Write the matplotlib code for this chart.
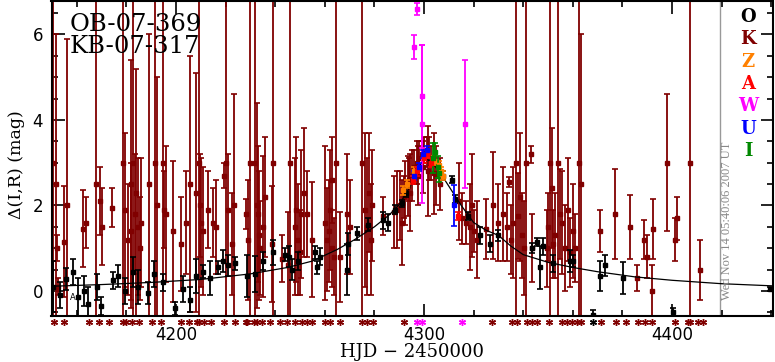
import matplotlib
matplotlib.use("Agg")
import matplotlib.pyplot as plt
import matplotlib.transforms as mtransforms
from matplotlib.ticker import MultipleLocator

# ---- data ----
# K (dark red) points: time, magnification, error
k_t = [4150.4, 4151.5, 4152.0, 4152.3, 4154.9, 4156.1, 4162.5, 4163.7, 4167.7, 4169.4,
       4170.2, 4174.2, 4178.6, 4179.4, 4180.6, 4181.9, 4182.7, 4183.9, 4184.7, 4185.9,
       4189.1, 4191.5, 4192.3, 4194.8, 4195.2, 4196.0, 4198.8, 4202.0, 4204.0, 4205.6,
       4208.0, 4209.2, 4209.6, 4210.9, 4212.9, 4214.9, 4216.1, 4219.4, 4220.2, 4223.4,
       4228.2, 4229.0, 4229.8, 4231.9, 4232.7, 4233.5, 4235.1, 4238.7, 4239.1, 4242.7,
       4245.2, 4245.8, 4247.8, 4249.0, 4250.5, 4252.8, 4254.8, 4260.0, 4261.0, 4262.2,
       4263.0, 4264.5, 4266.1, 4269.0, 4270.0, 4275.0, 4277.0, 4279.0, 4283.5, 4288.0,
       4289.0, 4292.3, 4293.5, 4292.0, 4294.0, 4295.0, 4296.0, 4297.0, 4298.0, 4299.0,
       4300.0, 4301.0, 4301.5, 4302.0, 4303.0, 4304.0, 4305.0, 4306.5, 4314.0, 4315.5,
       4317.0, 4320.0, 4325.0, 4327.9, 4330.0, 4331.9, 4333.5, 4334.1, 4335.0, 4337.0,
       4337.8, 4339.5, 4341.0, 4343.2, 4343.6, 4349.5, 4350.0, 4350.8, 4352.0, 4354.0,
       4354.8, 4358.0, 4359.0, 4361.0, 4362.5, 4363.3, 4371.0, 4377.0, 4383.0, 4386.0,
       4388.8, 4390.0, 4392.3, 4392.0, 4398.0, 4401.0, 4402.0, 4407.3, 4411.3,
       4233.0, 4234.0, 4236.0, 4248.5, 4250.0, 4251.5, 4261.5, 4262.8, 4263.8, 4276.0,
       4278.0, 4278.8, 4290.5, 4291.0, 4294.5, 4297.5, 4299.5, 4318.5, 4319.5, 4321.5,
       4336.0, 4338.5, 4340.5, 4351.5, 4353.0, 4355.5, 4357.0, 4360.0, 4182.0, 4183.3,
       4185.3, 4209.9, 4221.0, 4222.5]
k_mag = [3.0, 2.5, 1.0, 0.1, 1.15, 2.0, 1.45, 1.6, 2.5, 2.1,
         1.5, 1.95, 3.0, 1.9, 1.2, 2.5, 3.0, 2.3, 1.5, 1.6,
         2.5, 3.0, 2.0, 3.0, 1.9, 1.8, 1.4, 1.1, 1.6, 2.5,
         2.3, 3.0, 2.0, 1.4, 1.9, 1.6, 1.5, 2.7, 3.0, 2.0,
         1.8, 1.2, 3.0, 3.0, 2.0, 1.3, 1.5, 1.1, 3.0, 0.75,
         0.6, 3.0, 1.5, 1.2, 1.8, 1.8, 1.2, 1.6, 1.2, 1.9,
         1.0, 3.0, 0.8, 1.8, 1.5, 3.0, 1.5, 2.0, 1.75, 1.85,
         1.9, 2.3, 2.45, 2.2, 2.6, 2.7, 2.9, 3.0, 3.1, 3.2,
         3.3, 3.25, 2.8, 3.1, 3.0, 2.75, 2.7, 2.5, 2.1, 1.7,
         1.6, 1.4, 1.45, 2.0, 1.6, 1.8, 1.5, 2.55, 1.2, 3.0,
         1.75, 1.3, 3.0, 3.2, 1.0, 1.0, 1.5, 3.0, 1.1, 3.0,
         1.8, 1.9, 0.9, 1.0, 3.0, 2.5, 1.4, 1.8, 1.5, 0.3,
         1.2, 0.8, 1.45, 0.0, 3.0, 1.2, 1.7, 3.0, 0.5,
         1.8, 1.0, 2.2, 1.9, 0.9, 2.3, 1.4, 2.6, 0.8, 1.9,
         2.3, 1.2, 2.0, 1.6, 2.3, 2.7, 2.9, 1.5, 2.0, 1.2,
         1.6, 2.2, 1.0, 2.4, 1.3, 1.6, 1.0, 1.4, 1.4, 1.8,
         1.0, 1.6, 1.9, 1.1]
k_err = [4.0, 3.5, 0.3, 0.2, 1.3, 3.9, 0.9, 0.6, 4.5, 0.8,
         0.9, 0.45, 4.0, 1.8, 1.3, 2.9, 4.0, 2.9, 1.6, 1.5,
         3.5, 4.0, 3.0, 4.0, 0.9, 1.6, 1.65, 1.1, 1.2, 3.0,
         2.8, 4.0, 1.2, 1.5, 0.9, 0.8, 1.1, 0.3, 4.0, 2.6,
         0.35, 1.4, 4.0, 4.0, 2.4, 1.5, 1.65, 1.35, 4.0, 0.55,
         1.25, 4.0, 1.6, 1.3, 1.5, 1.0, 1.35, 1.8, 1.2, 1.4,
         0.9, 4.0, 1.05, 1.4, 1.1, 4.0, 1.6, 1.3, 0.45, 0.85,
         0.9, 0.75, 0.7, 0.5, 0.5, 0.6, 0.4, 0.5, 0.4, 0.3,
         0.3, 0.35, 1.05, 0.5, 0.4, 0.95, 0.7, 0.6, 0.9, 0.6,
         0.5, 0.5, 0.7, 1.25, 0.9, 1.1, 0.8, 0.12, 0.8, 4.0,
         1.0, 1.0, 4.0, 0.2, 0.8, 0.9, 0.8, 4.0, 0.8, 4.0,
         1.05, 1.2, 0.8, 0.8, 4.0, 3.5, 0.5, 1.05, 0.75, 0.3,
         0.45, 0.5, 0.7, 0.6, 1.6, 0.5, 0.5, 4.0, 0.7,
         1.6, 1.1, 1.4, 1.7, 1.0, 1.5, 1.2, 1.0, 0.9, 1.8,
         1.4, 1.3, 0.8, 1.0, 0.9, 0.7, 0.6, 1.0, 1.2, 0.9,
         1.3, 1.5, 1.1, 1.4, 1.0, 1.2, 1.0, 1.1, 1.6, 1.4,
         1.2, 1.5, 1.3, 1.2]

# O (black) points
o_t = [4150.4, 4153.2, 4155.6, 4158.5, 4160.5, 4163.0, 4164.5, 4168.1, 4169.8, 4174.6,
       4176.6, 4179.4, 4182.7, 4184.7, 4188.7, 4191.1, 4194.8, 4199.6, 4202.8, 4205.6,
       4208.0, 4210.9, 4213.7, 4217.0, 4219.0, 4221.0, 4223.8, 4228.6, 4231.9, 4235.1,
       4239.1, 4244.0, 4245.6, 4246.8, 4249.2, 4256.0, 4256.9, 4258.1, 4269.0, 4269.4,
       4273.0, 4277.5, 4283.5, 4285.5, 4288.3, 4291.1, 4292.7, 4307.7, 4311.3, 4312.5,
       4317.7, 4322.6, 4326.6, 4329.8, 4343.5, 4345.6, 4346.8, 4348.0, 4352.0, 4358.9,
       4360.1, 4371.0, 4373.0, 4380.3, 4368.2, 4400.4, 4439.5]
o_mag = [0.1, -0.1, 0.28, 0.44, -0.15, 0.0, -0.3, 0.1, -0.35, 0.25,
         0.35, 0.0, 0.45, 0.1, -0.05, 0.4, 0.2, -0.4, 0.05, -0.2,
         0.35, 0.45, 0.3, 0.55, 0.7, 0.6, 0.65, 0.35, 0.4, 0.7,
         0.9, 0.85, 0.8, 0.5, 0.7, 0.9, 0.55, 0.8, 0.5, 1.1,
         1.35, 1.55, 1.65, 1.6, 1.9, 2.05, 2.3, 2.7, 2.6, 2.15,
         1.75, 1.3, 1.1, 1.3, 1.0, 1.15, 0.55, 1.05, 0.65, 0.7,
         0.7, 0.35, 0.6, 0.3, -0.55, -0.5, 0.05]
o_err = [0.6, 0.3, 0.25, 0.3, 0.45, 0.35, 0.4, 0.3, 0.2, 0.2,
         0.25, 0.3, 0.35, 0.4, 0.25, 0.3, 0.2, 0.15, 0.3, 0.3,
         0.4, 0.15, 0.4, 0.15, 0.25, 0.25, 0.15, 0.5, 0.42, 0.2,
         0.3, 0.15, 0.25, 0.25, 0.2, 0.15, 0.15, 0.2, 0.6, 0.25,
         0.15, 0.15, 0.2, 0.2, 0.1, 0.08, 0.1, 0.1, 0.08, 0.1,
         0.1, 0.2, 0.2, 0.12, 0.12, 0.1, 0.5, 0.2, 0.2, 0.25,
         0.15, 0.35, 0.25, 0.37, 0.1, 0.1, 0.05]

z_t = [4291.5, 4293.0, 4296.0, 4301.0, 4304.0, 4306.0, 4307.0, 4307.5]
z_mag = [2.35, 2.5, 2.8, 3.2, 3.05, 2.95, 2.8, 2.7]
z_err = [0.1, 0.1, 0.1, 0.1, 0.1, 0.1, 0.1, 0.1]

a_t = [4295.5, 4297.0, 4300.0, 4301.0, 4303.0, 4313.5]
a_mag = [2.6, 2.8, 3.1, 3.2, 3.0, 1.75]
a_err = [0.1, 0.1, 0.1, 0.1, 0.1, 0.1]

w_t = [4297.2, 4296.0, 4299.0, 4299.1, 4316.6]
w_mag = [6.6, 5.7, 4.55, 3.9, 3.9]
w_err = [0.14, 0.28, 1.2, 1.85, 1.5]

u_t = [4296.0, 4298.0, 4299.5, 4301.0, 4312.1]
u_mag = [2.7, 2.9, 3.2, 3.3, 2.0]
u_err = [0.1, 0.1, 0.1, 0.1, 0.47]

i_t = [4303.8, 4304.5, 4305.5, 4306.0]
i_mag = [3.1, 3.25, 2.9, 2.75]
i_err = [0.35, 0.2, 0.25, 0.2]

# model light curve
model_t = [4149.8, 4170, 4190, 4210, 4230, 4245, 4255, 4265, 4272, 4280,
           4286, 4290, 4294, 4297, 4299, 4300.5, 4302, 4304, 4307, 4310,
           4315, 4320, 4325, 4330, 4335, 4340, 4350, 4360, 4370, 4385,
           4400, 4420, 4440.5]
model_mag = [0.11, 0.15, 0.2, 0.27, 0.4, 0.55, 0.7, 0.97, 1.2, 1.5,
             1.78, 2.02, 2.4, 2.75, 3.0, 3.1, 3.05, 2.95, 2.72, 2.45,
             2.0, 1.6, 1.42, 1.3, 1.05, 0.85, 0.67, 0.55, 0.45, 0.33,
             0.25, 0.17, 0.12]

# observation markers below the frame
star_t = [4150.8, 4154.8, 4164.9, 4169.0, 4173.0, 4178.6, 4179.8, 4182.3, 4185.1, 4190.3,
          4194.0, 4202.0, 4205.2, 4208.5, 4209.3, 4211.3, 4214.1, 4219.4, 4223.8, 4228.2,
          4228.6, 4231.4, 4232.6, 4234.7, 4237.9, 4242.0, 4244.8, 4248.0, 4250.8, 4252.8,
          4254.9, 4260.1, 4262.1, 4266.2, 4275.0, 4277.0, 4279.5, 4292.0, 4327.4, 4335.5,
          4337.5, 4341.5, 4343.6, 4345.6, 4350.4, 4355.7, 4357.7, 4359.7, 4361.7, 4363.4,
          4371.4, 4377.5, 4381.5, 4386.3, 4389.1, 4391.9, 4401.2, 4406.4, 4407.3, 4410.5,
          4412.5]
star_w_t = [4297.2, 4299.2, 4315.3]
star_o_t = [4368.2]

legend_letters = ["O", "K", "Z", "A", "W", "U", "I"]
legend_colors = ["black", "#800000", "#ff8000", "#ff0000", "#ff00ff", "#0000ff", "#008800"]

K_COL = "#800000"

fig = plt.figure(figsize=(7.75, 3.62), dpi=100)
ax = fig.add_axes([51.5 / 775, 1 - 316 / 362, 721 / 775, 315 / 362])


def bars(t, m, e, color, z):
    cont = ax.errorbar(t, m, yerr=e, fmt="s", ms=2.2, color=color, ecolor=color,
                       elinewidth=1.3, capsize=2.2, capthick=1.2, zorder=z)
    for c in cont.lines[2]:
        c.set_snap(True)


bars(k_t, k_mag, k_err, K_COL, 2)
ax.plot(model_t, model_mag, color="black", lw=0.9, zorder=3)
bars(o_t, o_mag, o_err, "black", 4)
bars(z_t, z_mag, z_err, "#ff8000", 5)
bars(a_t, a_mag, a_err, "#ff0000", 5)
bars(w_t, w_mag, w_err, "#ff00ff", 5)
bars(u_t, u_mag, u_err, "#0000ff", 5)
bars(i_t, i_mag, i_err, "#008800", 5)

ax.text(4158.3, -0.15, "A", fontsize=6, ha="center", va="center", zorder=6)

# markers under the frame
trans = mtransforms.blended_transform_factory(ax.transData, ax.transAxes)
for tt, col in [(star_t, K_COL), (star_w_t, "#ff00ff"), (star_o_t, "black")]:
    ax.plot(tt, [-0.02] * len(tt), ls="none", marker=(6, 2, 0), ms=5, mew=1,
            color=col, transform=trans, clip_on=False)

# date stamp
ax.axvline(4419.2, color="#999999", lw=1, zorder=1)
ax.text(4422.2, 1.63, "Wed Nov 14 05:40:06 2007 UT", rotation=90, ha="center",
        va="center", color="#888888", fontsize=9, family="Liberation Serif")

ax.set_xlim(4149.8, 4440.5)
ax.set_ylim(-0.585, 6.78)
ax.xaxis.set_major_locator(MultipleLocator(100))
ax.xaxis.set_minor_locator(MultipleLocator(20))
ax.yaxis.set_major_locator(MultipleLocator(2))
ax.yaxis.set_minor_locator(MultipleLocator(0.5))
ax.tick_params(which="both", direction="in", top=True, right=True, width=1.2)
ax.tick_params(which="major", length=9, labelsize=12)
ax.tick_params(which="minor", length=4.5)
ax.tick_params(axis="x", which="major", pad=7)
ax.tick_params(axis="y", which="major", pad=6)
for s in ax.spines.values():
    s.set_linewidth(1.5)

fig.text(412 / 775, 1 - 352 / 362, "HJD \u2212 2450000", ha="center", va="center",
         fontsize=13, family="DejaVu Serif")
fig.text(17 / 775, 1 - 165 / 362, "\u0394(I,R) (mag)", ha="center", va="center",
         rotation=90, fontsize=12.5, family="DejaVu Serif")

fig.text(70 / 775, 1 - 13 / 362, "OB-07-369\nKB-07-317", fontsize=17.5,
         family="DejaVu Serif", va="top", linespacing=0.95)

# letters on the right
for j, (lab, col) in enumerate(zip(legend_letters, legend_colors)):
    fig.text(748 / 775, 1 - (17 + 22.3 * j) / 362, lab, color=col, ha="center",
             va="center", fontsize=13, family="DejaVu Serif", weight="bold")

fig.savefig("out.png", dpi=100)
